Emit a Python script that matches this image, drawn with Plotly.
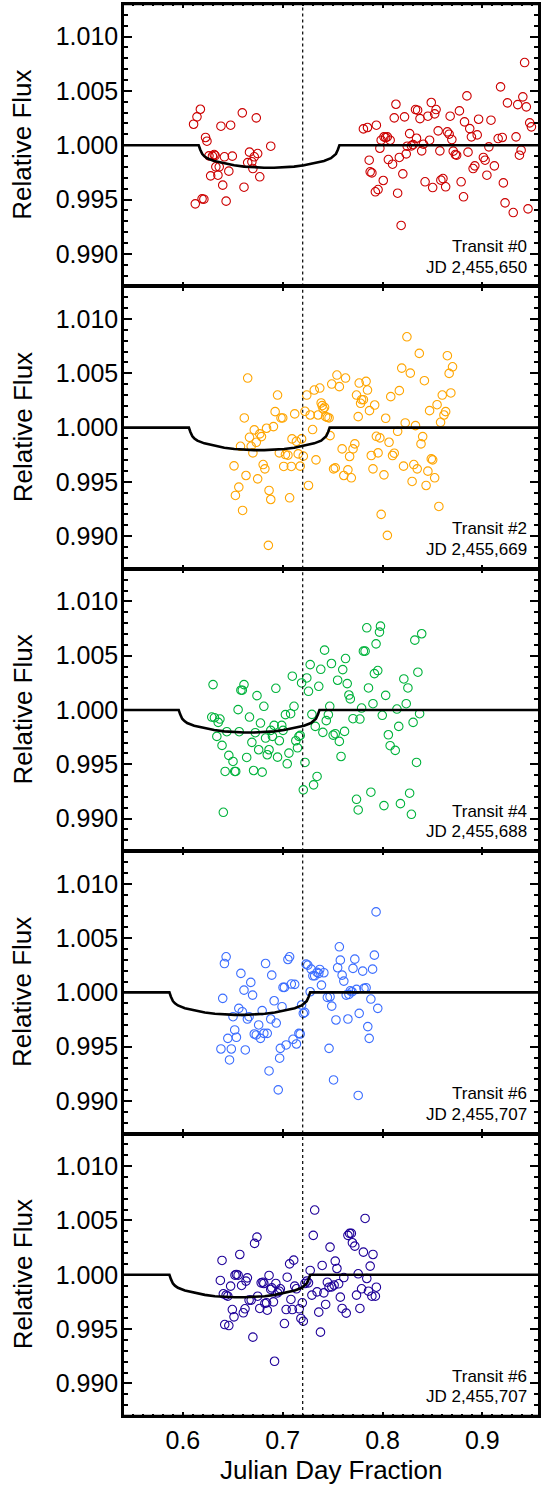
import plotly.graph_objects as go
from plotly.subplots import make_subplots

# ---------------- data ----------------
time_0 = [0.6107, 0.6141, 0.6175, 0.6124, 0.6192, 0.6210, 0.6227, 0.6241, 0.6261, 0.6278,
          0.6296, 0.6313, 0.6323, 0.6330, 0.6351, 0.6364, 0.6381, 0.6399, 0.6416, 0.6433,
          0.6460, 0.6478, 0.6495, 0.6595, 0.6612, 0.6649, 0.6667, 0.6691, 0.6701, 0.6715,
          0.6735, 0.6749, 0.6770, 0.6880,
          0.7808, 0.7849, 0.7938, 0.7866, 0.7876, 0.7893, 0.7928, 0.7955, 0.7973, 0.7986,
          0.8007, 0.8014, 0.8031, 0.8048, 0.8058, 0.8076, 0.8100, 0.8117, 0.8134, 0.8151,
          0.8168, 0.8186, 0.8203, 0.8220, 0.8237, 0.8247, 0.8271, 0.8289, 0.8306, 0.8330,
          0.8351, 0.8340, 0.8375, 0.8392, 0.8409, 0.8426, 0.8454, 0.8471, 0.8488, 0.8502,
          0.8522, 0.8536, 0.8557, 0.8574, 0.8584, 0.8605, 0.8632, 0.8649, 0.8667, 0.8677,
          0.8694, 0.8708, 0.8729, 0.8742, 0.8770, 0.8787, 0.8811, 0.8821, 0.8845, 0.8856,
          0.8873, 0.8890, 0.8907, 0.8924, 0.8948, 0.8962, 0.9010, 0.9027, 0.9045, 0.9065,
          0.9086, 0.9120, 0.9158, 0.9182, 0.9199, 0.9210, 0.9227, 0.9251, 0.9309, 0.9337,
          0.9354, 0.9371, 0.9388, 0.9405, 0.9423, 0.9440, 0.9457, 0.9474, 0.9491]
flux_0 = [1.00193, 1.00261, 1.00331, 0.99460, 0.99506, 0.99503, 1.00071, 1.00037, 0.99902, 0.99718,
          0.99899, 0.99914, 0.99905, 0.99801, 0.99724, 0.99801, 1.00175, 0.99632, 0.99893, 0.99485,
          0.99761, 1.00184, 0.99899, 1.00298, 0.99613, 0.99840, 0.99936, 0.99847, 0.99785, 0.99893,
          1.00252, 0.99923, 0.99709, 0.99991,
          1.00150, 1.00163, 1.00184, 0.99862, 0.99755, 0.99745, 0.99571, 0.99592, 0.99972, 1.00046,
          0.99675, 1.00077, 1.00071, 1.00077, 0.99868, 1.00046, 0.99825, 1.00252, 1.00377, 0.99558,
          0.99887, 0.99261, 0.99736, 1.00261, 0.99920, 0.99991, 1.00107, 0.99994, 1.00006, 1.00328,
          1.00322, 1.00064, 1.00245, 0.99948, 1.00009, 0.99663, 1.00267, 1.00046, 1.00393, 0.99610,
          1.00288, 1.00328, 1.00132, 0.99948, 0.99678, 0.99693, 0.99617, 1.00123, 1.00101, 1.00267,
          1.00052, 0.99945, 0.99914, 0.99908, 1.00316, 0.99663, 0.99525, 1.00215, 1.00454, 0.99936,
          1.00153, 1.00077, 0.99785, 0.99810, 1.00095, 1.00239, 0.99887, 0.99862, 0.99724, 0.99985,
          1.00230, 0.99810, 1.00061, 1.00537, 1.00071, 0.99653, 0.99469, 1.00390, 0.99380, 1.00077,
          1.00374, 0.99908, 0.99954, 1.00445, 1.00761, 1.00353, 0.99414, 1.00206, 1.00169]

time_2 = [0.6512, 0.6526, 0.6560, 0.6577, 0.6598, 0.6615, 0.6632, 0.6649, 0.6667, 0.6684,
          0.6701, 0.6715, 0.6735, 0.6749, 0.6770, 0.6787, 0.6804, 0.6821, 0.6838, 0.6863,
          0.6880, 0.6856, 0.6907, 0.6924, 0.6948, 0.6966, 0.6983, 0.7000, 0.7010, 0.7027,
          0.7052, 0.7069, 0.7086, 0.7093, 0.7120, 0.7137, 0.7155, 0.7175, 0.7189, 0.7206,
          0.7223, 0.7241, 0.7258, 0.7275, 0.7299, 0.7316, 0.7333, 0.7354, 0.7371, 0.7385,
          0.7395, 0.7405, 0.7419, 0.7430, 0.7447, 0.7464, 0.7474, 0.7491, 0.7509, 0.7526,
          0.7543, 0.7567, 0.7595, 0.7612, 0.7629, 0.7653, 0.7670, 0.7687, 0.7704, 0.7722,
          0.7739, 0.7756, 0.7766, 0.7780, 0.7790, 0.7808, 0.7835, 0.7849, 0.7869, 0.7887,
          0.7904, 0.7921, 0.7938, 0.7955, 0.7973, 0.7986, 0.8014, 0.8031, 0.8048, 0.8065,
          0.8082, 0.8100, 0.8117, 0.8151, 0.8168, 0.8192, 0.8210, 0.8227, 0.8244, 0.8278,
          0.8296, 0.8313, 0.8330, 0.8347, 0.8368, 0.8385, 0.8402, 0.8419, 0.8436, 0.8454,
          0.8471, 0.8488, 0.8502, 0.8522, 0.8546, 0.8564, 0.8581, 0.8598, 0.8615, 0.8632,
          0.8649, 0.8667, 0.8684, 0.8701]
flux_2 = [0.99648, 0.99375, 0.99452, 0.99828, 0.99237, 1.00089, 0.99559, 1.00456, 0.99911, 0.99828,
          0.99767, 0.99979, 0.99865, 0.99528, 0.99942, 0.99917, 0.99660, 0.99620, 0.99994, 0.99421,
          0.99338, 0.98916, 1.00009, 1.00147, 1.00300, 0.99767, 1.00089, 1.00089, 0.99642, 0.99752,
          0.99746, 0.99354, 0.99642, 0.99896, 1.00126, 0.99874, 0.99758, 0.99645, 0.99896, 0.99737,
          1.00150, 1.00300, 0.99467, 1.00116, 0.99982, 1.00346, 0.99703, 1.00116, 1.00364, 1.00227,
          1.00202, 1.00172, 1.00187, 1.00101, 1.00095, 1.00089, 0.99926, 1.00401, 0.99620, 0.99629,
          1.00484, 1.00377, 0.99804, 0.99559, 1.00456, 0.99611, 0.99734, 0.99538, 0.99804, 0.99850,
          1.00300, 1.00101, 1.00410, 1.00224, 1.00257, 1.00257, 1.00426, 1.00346, 1.00156, 0.99743,
          0.99620, 1.00208, 0.99920, 0.99767, 0.99905, 0.99201, 0.99565, 1.00086, 0.99008, 0.99865,
          1.00285, 0.99743, 0.99764, 0.99966, 1.00340, 1.00548, 0.99645, 1.00043, 1.00836, 1.00502,
          0.99504, 0.99660, 1.00018, 0.99620, 1.00683, 0.99850, 0.99917, 1.00432, 0.99467, 0.99599,
          1.00156, 0.99712, 0.99703, 0.99538, 1.00211, 0.99274, 1.00049, 1.00300, 1.00116, 1.00147,
          1.00662, 1.00499, 1.00319, 1.00560]

time_4 = [0.6289, 0.6302, 0.6316, 0.6340, 0.6354, 0.6371, 0.6392, 0.6405, 0.6423, 0.6440,
          0.6460, 0.6502, 0.6519, 0.6529, 0.6553, 0.6564, 0.6581, 0.6595, 0.6612, 0.6639,
          0.6667, 0.6691, 0.6708, 0.6725, 0.6742, 0.6759, 0.6777, 0.6794, 0.6811, 0.6828,
          0.6845, 0.6863, 0.6880, 0.6897, 0.6914, 0.6931, 0.6948, 0.6966, 0.6990, 0.7003,
          0.7027, 0.7045, 0.7062, 0.7079, 0.7096, 0.7113, 0.7131, 0.7148, 0.7162, 0.7175,
          0.7189, 0.7206, 0.7223, 0.7241, 0.7258, 0.7275, 0.7292, 0.7309, 0.7326, 0.7344,
          0.7361, 0.7381, 0.7402, 0.7419, 0.7436, 0.7457, 0.7471, 0.7488, 0.7505, 0.7526,
          0.7550, 0.7567, 0.7584, 0.7619, 0.7601, 0.7629, 0.7646, 0.7663, 0.7677, 0.7704,
          0.7739, 0.7756, 0.7773, 0.7790, 0.7808, 0.7825, 0.7842, 0.7859, 0.7883, 0.7904,
          0.7918, 0.7935, 0.7952, 0.7969, 0.7979, 0.7997, 0.8014, 0.8031, 0.8058, 0.8076,
          0.8127, 0.8144, 0.8162, 0.8179, 0.8213, 0.8237, 0.8254, 0.8271, 0.8289, 0.8306,
          0.8323, 0.8340, 0.8354, 0.8371, 0.8392]
flux_4 = [0.99935, 1.00234, 0.99929, 0.99757, 0.99886, 0.99917, 0.99674, 0.99058, 0.99434, 0.99800,
          0.99582, 0.99526, 0.99434, 0.99434, 1.00003, 0.99800, 1.00182, 1.00182, 1.00234, 0.99563,
          0.99935, 0.99702, 0.99443, 0.99791, 1.00132, 0.99634, 0.99880, 0.99428, 1.00034, 0.99742,
          0.99588, 0.99634, 0.99812, 0.99757, 0.99858, 1.00200, 0.99566, 0.99717, 0.99858, 0.99812,
          0.99957, 0.99505, 0.99603, 0.99966, 1.00311, 1.00034, 0.99717, 0.99652, 0.99757, 0.99766,
          1.00249, 0.99265, 0.99517, 1.00295, 1.00172, 1.00418, 0.99960, 0.99311, 0.99849, 0.99388,
          1.00218, 1.00375, 0.99794, 1.00551, 0.99902, 0.99957, 1.00034, 1.00428, 0.99769, 0.99782,
          1.00274, 0.99711, 0.99572, 0.99803, 1.00372, 1.00474, 1.00243, 1.00138, 1.00102, 0.99920,
          0.99178, 0.99080, 0.99917, 1.00018, 1.00542, 1.00542, 1.00757, 1.00203, 0.99243, 1.00058,
          1.00335, 1.00609, 1.00363, 1.00717, 1.00772, 0.99951, 0.99120, 1.00135, 0.99772, 0.99671,
          0.99628, 1.00009, 0.99849, 0.99138, 1.00286, 1.00058, 1.00203, 0.99234, 0.99040, 0.99886,
          1.00643, 0.99517, 1.00348, 0.99966, 1.00702]

time_6a = [0.6381, 0.6399, 0.6416, 0.6433, 0.6450, 0.6467, 0.6485, 0.6502, 0.6519, 0.6536,
           0.6560, 0.6581, 0.6595, 0.6612, 0.6625, 0.6646, 0.6663, 0.6680, 0.6698, 0.6715,
           0.6735, 0.6759, 0.6777, 0.6794, 0.6811, 0.6828, 0.6845, 0.6863, 0.6880, 0.6890,
           0.6914, 0.6935, 0.6955, 0.6969, 0.6976, 0.6993, 0.7003, 0.7017, 0.7034, 0.7052,
           0.7069, 0.7086, 0.7103, 0.7120, 0.7137, 0.7162, 0.7175, 0.7189, 0.7206, 0.7220,
           0.7234, 0.7251, 0.7275, 0.7285, 0.7302, 0.7320, 0.7344, 0.7361, 0.7371, 0.7388,
           0.7412, 0.7447, 0.7464, 0.7474, 0.7491, 0.7509, 0.7533, 0.7550, 0.7567, 0.7577,
           0.7595, 0.7612, 0.7636, 0.7653, 0.7663, 0.7677, 0.7694, 0.7704, 0.7722, 0.7739,
           0.7756, 0.7766, 0.7801, 0.7814, 0.7835, 0.7852, 0.7866, 0.7883, 0.7900, 0.7918,
           0.7935, 0.7952]
flux_6a = [0.99479, 0.99945, 1.00266, 1.00328, 0.99577, 0.99378, 0.99479, 0.99776, 0.99654, 0.99587,
           0.99853, 1.00175, 0.99822, 1.00021, 0.99470, 0.99755, 0.99776, 1.00092, 0.99975, 0.99617,
           0.99608, 0.99700, 0.99577, 0.99832, 0.99623, 1.00266, 0.99623, 0.99277, 0.99755, 1.00159,
           0.99923, 0.99718, 0.99103, 0.99394, 0.99485, 0.99868, 1.00046, 1.00046, 0.99516, 1.00303,
           1.00328, 1.00077, 0.99568, 1.00074, 0.99525, 0.99623, 0.99617, 0.99884, 0.99807, 0.99816,
           1.00260, 1.00251, 1.00006, 1.00214, 1.00153, 1.00153, 1.00184, 1.00175, 1.00211, 1.00067,
           1.00181, 0.99954, 0.99485, 0.99960, 0.99874, 0.99194, 0.99746, 1.00227, 1.00420, 1.00297,
           1.00159, 1.00104, 0.99975, 0.99755, 0.99982, 1.00015, 1.00006, 1.00221, 1.00306, 1.00028,
           0.99051, 0.99807, 1.00196, 1.00037, 1.00043, 0.99685, 0.99577, 0.99939, 1.00214, 1.00343,
           1.00741, 0.99853]

time_6b = [0.6375, 0.6392, 0.6405, 0.6419, 0.6433, 0.6450, 0.6460, 0.6478, 0.6495, 0.6512,
           0.6522, 0.6536, 0.6553, 0.6570, 0.6588, 0.6605, 0.6622, 0.6632, 0.6646, 0.6663,
           0.6684, 0.6701, 0.6718, 0.6742, 0.6749, 0.6770, 0.6784, 0.6801, 0.6811, 0.6821,
           0.6838, 0.6845, 0.6863, 0.6880, 0.6890, 0.6907, 0.6918, 0.6931, 0.6948, 0.6966,
           0.6976, 0.7017, 0.7034, 0.7045, 0.7069, 0.7082, 0.7096, 0.7110, 0.7120, 0.7137,
           0.7165, 0.7182, 0.7196, 0.7206, 0.7223, 0.7241, 0.7258, 0.7275, 0.7292, 0.7306,
           0.7320, 0.7344, 0.7361, 0.7378, 0.7395, 0.7412, 0.7430, 0.7447, 0.7464, 0.7474,
           0.7491, 0.7515, 0.7526, 0.7543, 0.7560, 0.7577, 0.7595, 0.7612, 0.7636, 0.7653,
           0.7670, 0.7687, 0.7698, 0.7722, 0.7739, 0.7756, 0.7773, 0.7790, 0.7808, 0.7825,
           0.7842, 0.7859, 0.7876, 0.7893, 0.7904, 0.7928, 0.7938]
flux_6b = [0.99948, 1.00132, 0.99825, 0.99542, 0.99813, 0.99803, 0.99533, 0.99896, 0.99680, 0.99613,
           0.99997, 1.00003, 0.99997, 1.00187, 0.99902, 0.99650, 0.99687, 0.99942, 0.99972, 0.99767,
           0.99767, 0.99426, 1.00289, 1.00347, 0.99803, 0.99690, 0.99926, 0.99932, 0.99920, 0.99736,
           0.99742, 0.99674, 0.99994, 0.99865, 0.99880, 0.99751, 0.99204, 0.99920, 0.99834, 0.99849,
           0.99871, 0.99551, 0.99680, 0.99978, 1.00101, 0.99773, 0.99680, 1.00135, 0.99896, 0.99871,
           0.99687, 0.99598, 0.99742, 0.99573, 0.99920, 0.99942, 0.99926, 1.00040, 0.99813, 1.00363,
           1.00596, 0.99843, 0.99656, 0.99472, 1.00086, 0.99834, 0.99727, 0.99932, 0.99886, 1.00255,
           0.99889, 0.99905, 1.00126, 1.00058, 0.99917, 0.99794, 0.99690, 0.99975, 0.99647, 1.00363,
           1.00381, 1.00381, 1.00295, 1.00264, 0.99813, 1.00009, 0.99690, 0.99871, 1.00209, 1.00519,
           0.99966, 0.99849, 1.00080, 0.99803, 1.00187, 0.99803, 0.99886]

panel_times = [time_0, time_2, time_4, time_6a, time_6b]
panel_fluxes = [flux_0, flux_2, flux_4, flux_6a, flux_6b]
panel_colors = ["#CC0000", "#FFA500", "#00B33C", "#3C6EFF", "#1E0099"]
transit_labels = ["Transit #0", "Transit #2", "Transit #4", "Transit #6", "Transit #6"]
jd_labels = ["JD 2,455,650", "JD 2,455,669", "JD 2,455,688", "JD 2,455,707", "JD 2,455,707"]

# transit model: mid-times per panel and one template shape (offset from mid, flux)
transit_mid = [0.6863, 0.6765, 0.6663, 0.6570, 0.6570]
model_phase = [-0.40, -0.0705, -0.0690, -0.0670, -0.0650, -0.0620, -0.0550, -0.0450, -0.0350,
               -0.0250, -0.0150, -0.0050, 0.0050, 0.0150, 0.0250, 0.0350, 0.0450, 0.0550,
               0.0620, 0.0650, 0.0670, 0.0690, 0.0705, 0.40]
model_flux = [1.0, 1.0, 0.99960, 0.99920, 0.99900, 0.99880, 0.99855, 0.99832, 0.99815,
              0.99803, 0.99796, 0.99793, 0.99793, 0.99796, 0.99803, 0.99815, 0.99832, 0.99855,
              0.99880, 0.99900, 0.99920, 0.99960, 1.0, 1.0]

ref_time = 0.72
x_range = [0.541, 0.9557]
y_range = [0.987, 1.013]
y_tickvals = [0.990, 0.995, 1.000, 1.005, 1.010]
x_tickvals = [0.6, 0.7, 0.8, 0.9]
x_ticktext = ["0.6", "0.7", "0.8", "0.9"]

for t, f in zip(panel_times, panel_fluxes):
    assert len(t) == len(f)

# ---------------- figure ----------------
FONT = "Liberation Sans, Arial, Helvetica, sans-serif"
n = len(panel_times)
fig = make_subplots(rows=n, cols=1, shared_xaxes=True, vertical_spacing=0)

for i in range(n):
    row = i + 1
    ydom = ("y" if i == 0 else f"y{i + 1}") + " domain"
    xdom = ("x" if i == 0 else f"x{i + 1}") + " domain"
    fig.add_trace(go.Scatter(
        x=panel_times[i], y=panel_fluxes[i], mode="markers",
        marker=dict(symbol="circle-open", size=8.5, color=panel_colors[i],
                    line=dict(width=1.1, color=panel_colors[i])),
        showlegend=False, cliponaxis=True), row=row, col=1)
    fig.add_trace(go.Scatter(
        x=[transit_mid[i] + p for p in model_phase], y=model_flux, mode="lines",
        line=dict(color="black", width=2.6), showlegend=False), row=row, col=1)
    fig.add_vline(x=ref_time, line=dict(color="black", width=1.2, dash="dot"), row=row, col=1)

    fig.add_annotation(text=transit_labels[i], xref=xdom, yref=ydom,
                       x=0.978, y=0.1415, xanchor="right", yanchor="middle",
                       showarrow=False, font=dict(family=FONT, size=17, color="black"))
    fig.add_annotation(text=jd_labels[i], xref=xdom, yref=ydom,
                       x=0.978, y=0.068, xanchor="right", yanchor="middle",
                       showarrow=False, font=dict(family=FONT, size=17, color="black"))
    fig.add_annotation(text="Relative Flux", xref="paper", yref=ydom,
                       x=-0.245, y=0.5, xanchor="center", yanchor="middle", textangle=-90,
                       showarrow=False, font=dict(family=FONT, size=26, color="black"))

    fig.update_yaxes(range=y_range, tickvals=y_tickvals, tickformat=".3f",
                     ticks="inside", ticklen=8, tickwidth=2, tickcolor="black",
                     minor=dict(dtick=0.001, tick0=1.0, ticks="inside", ticklen=4,
                                tickwidth=2, tickcolor="black"),
                     showline=True, linewidth=2.6, linecolor="black", mirror="ticks",
                     showgrid=False, zeroline=False,
                     tickfont=dict(family=FONT, size=25, color="black"),
                     ticklabelstandoff=-2,
                     row=row, col=1)
    fig.update_xaxes(range=x_range, tickvals=x_tickvals, ticktext=x_ticktext,
                     ticks="inside", ticklen=4.5, tickwidth=2, tickcolor="black",
                     minor=dict(dtick=0.01, tick0=0.5, ticks="inside", ticklen=2,
                                tickwidth=1.8, tickcolor="black"),
                     showline=True, linewidth=1.5, linecolor="black", mirror="ticks",
                     showgrid=False, zeroline=False,
                     tickfont=dict(family=FONT, size=25, color="black"),
                     showticklabels=(row == n), ticklabelstandoff=1,
                     row=row, col=1)

# heavier outer frame edges at the very top and bottom
fig.add_shape(type="line", xref="paper", yref="paper", x0=0, x1=1, y0=1, y1=1,
              line=dict(color="black", width=2.4))
fig.add_shape(type="line", xref="paper", yref="paper", x0=0, x1=1, y0=0, y1=0,
              line=dict(color="black", width=2.4))

fig.add_annotation(text="Julian Day Fraction", xref="paper", yref="paper",
                   x=0.5, y=-0.0379, xanchor="center", yanchor="middle", showarrow=False,
                   font=dict(family=FONT, size=26, color="black"))

fig.update_layout(width=541, height=1485,
                  margin=dict(l=124, r=0, t=4, b=69, pad=0),
                  paper_bgcolor="white", plot_bgcolor="white",
                  font=dict(family=FONT, color="black"))

fig.write_html("out.html")
